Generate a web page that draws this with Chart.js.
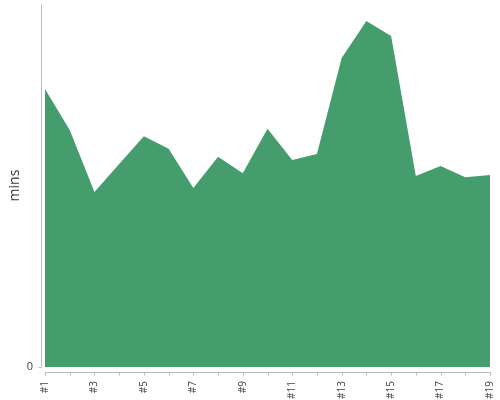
<!DOCTYPE html>
<html>
<head>
<meta charset="utf-8">
<script src="https://cdn.jsdelivr.net/npm/chart.js@4"></script>
<style>
  html, body { margin: 0; padding: 0; background: #fff; }
  #wrap { width: 500px; height: 400px; }
</style>
</head>
<body>
<div id="wrap"><canvas id="c" width="500" height="400"></canvas></div>
<script>
const categories = ['#1','#2','#3','#4','#5','#6','#7','#8','#9','#10','#11','#12','#13','#14','#15','#16','#17','#18','#19'];
const minsValues = [76.6, 65.3, 48.2, 55.9, 63.6, 60.1, 49.3, 57.9, 53.4, 65.6, 57.0, 58.7, 85.1, 95.3, 91.2, 52.6, 55.4, 52.3, 52.9];
const yTickValues = [0];
const yTitle = 'mins';

const axisColor = '#bdbdbd';
const fillColor = '#459d6d';

const offsetAxes = {
  id: 'offsetAxes',
  afterDraw(chart) {
    const ctx = chart.ctx;
    const a = chart.chartArea;
    const xs = chart.scales.x, ys = chart.scales.y;
    ctx.save();
    ctx.strokeStyle = axisColor;
    ctx.lineWidth = 1;
    ctx.beginPath();
    const yx = Math.round(a.left) - 4 + 0.5;
    ctx.moveTo(yx, a.top);
    ctx.lineTo(yx, a.bottom);
    yTickValues.forEach(v => {
      const py = Math.round(ys.getPixelForValue(v)) + 0.5;
      ctx.moveTo(yx, py);
      ctx.lineTo(yx - 3, py);
    });
    const xy = Math.round(a.bottom) + 5 + 0.5;
    ctx.moveTo(a.left, xy);
    ctx.lineTo(a.right + 1, xy);
    categories.forEach((c, i) => {
      const px = Math.round(xs.getPixelForTick(i)) + 0.5;
      ctx.moveTo(px, xy);
      ctx.lineTo(px, xy + 3);
    });
    ctx.stroke();
    ctx.restore();
  }
};

function zeroPad(scale) {
  scale.paddingTop = 0; scale.paddingBottom = 0;
  scale.paddingLeft = 0; scale.paddingRight = 0;
}

new Chart(document.getElementById('c'), {
  type: 'line',
  data: {
    labels: categories,
    datasets: [{
      data: minsValues,
      fill: 'origin',
      backgroundColor: fillColor,
      borderColor: fillColor,
      borderWidth: 0,
      pointRadius: 0,
      pointHoverRadius: 0,
      tension: 0
    }]
  },
  options: {
    responsive: false,
    animation: false,
    events: [],
    layout: { padding: { top: 4, right: 10, bottom: 0, left: 0 } },
    plugins: { legend: { display: false }, tooltip: { enabled: false } },
    scales: {
      x: {
        type: 'category',
        offset: false,
        border: { display: false },
        grid: { display: true, drawOnChartArea: false, drawTicks: true, tickLength: 8, color: 'rgba(0,0,0,0)' },
        ticks: {
          autoSkip: false,
          maxRotation: 90,
          minRotation: 90,
          padding: 6,
          color: '#444',
          font: { family: 'Open Sans', size: 10 },
          callback: function(v, i) { return i % 2 === 0 ? categories[i] : ''; }
        },
        afterFit(scale) { scale.height = 33; zeroPad(scale); }
      },
      y: {
        min: 0,
        max: 100,
        border: { display: false },
        grid: { display: true, drawOnChartArea: false, drawTicks: true, tickLength: 8, color: 'rgba(0,0,0,0)' },
        afterBuildTicks(scale) { scale.ticks = yTickValues.map(v => ({ value: v })); },
        ticks: {
          padding: 4,
          color: '#444',
          font: { family: 'Open Sans', size: 11 }
        },
        title: {
          display: true,
          text: yTitle,
          color: '#333',
          font: { family: 'Open Sans', size: 14 },
          padding: { top: 7, bottom: 0 }
        },
        afterFit(scale) { scale.width = 45; zeroPad(scale); }
      }
    }
  },
  plugins: [offsetAxes]
});
</script>
</body>
</html>
